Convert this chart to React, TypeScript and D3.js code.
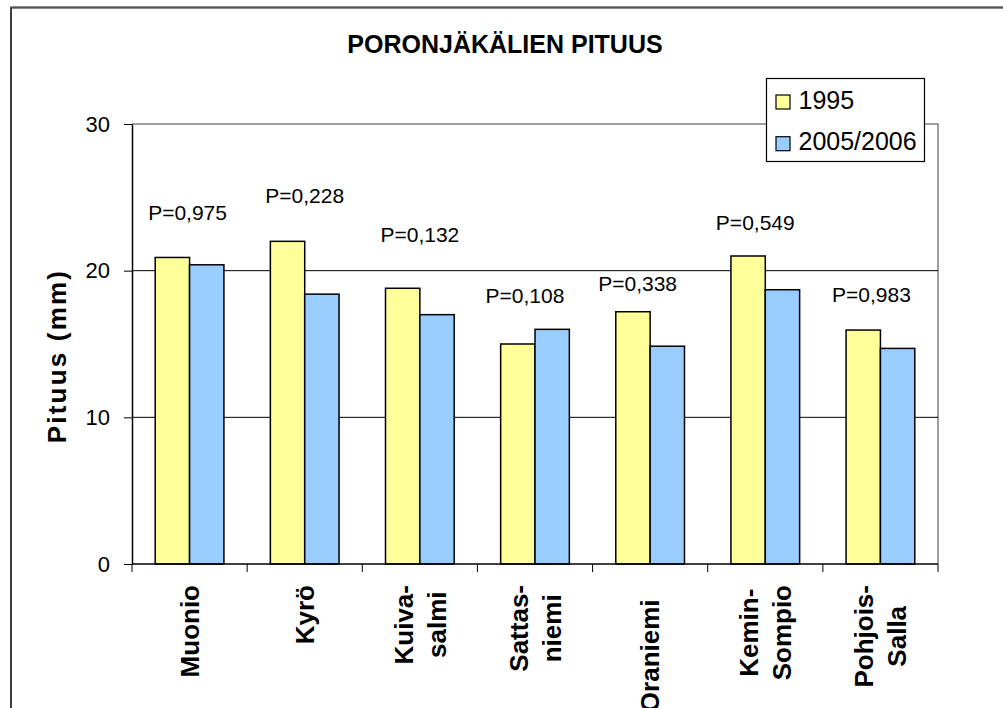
import React, { useEffect, useRef } from "react";
import * as d3 from "d3";

// data
const categories = ["Muonio", "Kyrö", "Kuivasalmi", "Sattasniemi", "Oraniemi", "Kemin-Sompio", "Pohjois-Salla"];
const categoryLines = [["Muonio"], ["Kyrö"], ["Kuiva-", "salmi"], ["Sattas-", "niemi"], ["Oraniemi  "], ["Kemin-", "Sompio"], ["Pohjois-", "Salla"]];
const series = ["1995", "2005/2006"];
const values1995 = [20.9, 22.0, 18.8, 15.0, 17.2, 21.0, 15.95];
const values2005 = [20.4, 18.4, 17.0, 16.0, 14.85, 18.7, 14.7];
const pLabels = ["P=0,975", "P=0,228", "P=0,132", "P=0,108", "P=0,338", "P=0,549", "P=0,983"];
// level (in mm) where each P label sits
const pLabelLevel = [24.0, 25.1, 22.5, 18.3, 19.1, 23.3, 18.4];
const yTicks = [0, 10, 20, 30];

const W = 1003;
const H = 708;
const FONT = '"Liberation Sans", Arial, Helvetica, sans-serif';
const colors = ["#FFFF99", "#99CCFF"];

export default function App() {
  const ref = useRef<SVGSVGElement>(null);

  useEffect(() => {
    const svg = d3.select(ref.current);
    svg.selectAll("*").remove();

    const left = 132, right = 938, top = 124, bottom = 564;

    const x0 = d3.scaleBand<string>().domain(categories).range([left, right]).padding(0);
    const x1 = d3.scaleBand<string>().domain(series).range([0, x0.bandwidth()]).paddingInner(0).paddingOuter(0.676);
    const y = d3.scaleLinear().domain([0, 30]).range([bottom, top]);

    svg.append("rect").attr("width", W).attr("height", H).attr("fill", "#fff");

    // chart frame (runs off the page on the right and bottom)
    svg.append("rect")
      .attr("x", 11).attr("y", 7.5)
      .attr("width", W + 40).attr("height", H + 40)
      .attr("fill", "none").attr("stroke", "#000").attr("stroke-width", 1.5);
    svg.append("line")
      .attr("x1", 11).attr("x2", W).attr("y1", 7.5).attr("y2", 7.5)
      .attr("stroke", "#555").attr("stroke-width", 2);

    // plot area border (gray top + right)
    svg.append("path")
      .attr("d", `M${left},${top}H${right}V${bottom}`)
      .attr("fill", "none").attr("stroke", "#808080").attr("stroke-width", 1.5);

    // gridlines
    svg.append("g")
      .selectAll("line")
      .data(yTicks.filter((t) => t > 0 && t < 30))
      .join("line")
      .attr("x1", left).attr("x2", right)
      .attr("y1", (d) => y(d)).attr("y2", (d) => y(d))
      .attr("stroke", "#000").attr("stroke-width", 1);

    // bars
    const rows = categories.map((c, i) => ({ c, vals: [values1995[i], values2005[i]] }));
    const groups = svg.append("g")
      .selectAll("g")
      .data(rows)
      .join("g")
      .attr("transform", (d) => `translate(${x0(d.c)},0)`);

    groups.selectAll("rect")
      .data((d) => d.vals.map((v, j) => ({ s: series[j], v, j })))
      .join("rect")
      .attr("x", (d) => x1(d.s)!)
      .attr("y", (d) => y(d.v))
      .attr("width", x1.bandwidth())
      .attr("height", (d) => bottom - y(d.v))
      .attr("fill", (d) => colors[d.j])
      .attr("stroke", "#000")
      .attr("stroke-width", 1.5);

    // y axis
    const yAxis = svg.append("g")
      .attr("transform", `translate(${left},0)`)
      .call(d3.axisLeft(y).tickValues(yTicks).tickSize(8).tickSizeOuter(0).tickPadding(14));
    yAxis.select(".domain").attr("stroke", "#000").attr("stroke-width", 1.5);
    yAxis.selectAll(".tick line").attr("stroke", "#000");
    yAxis.selectAll("text")
      .attr("font-family", FONT).attr("font-size", 22).attr("fill", "#000");

    // x axis line + ticks at category boundaries
    svg.append("line")
      .attr("x1", left).attr("x2", right)
      .attr("y1", bottom).attr("y2", bottom)
      .attr("stroke", "#000").attr("stroke-width", 1.5);
    const bounds = categories.map((c) => x0(c)!).concat([right]);
    svg.append("g")
      .selectAll("line")
      .data(bounds)
      .join("line")
      .attr("x1", (d) => d).attr("x2", (d) => d)
      .attr("y1", bottom).attr("y2", bottom + 8)
      .attr("stroke", "#000");

    // category labels, rotated, lines centred, block starting under the axis
    const lineGap = 33;
    categoryLines.forEach((lines, i) => {
      const cx = x0(categories[i])! + x0.bandwidth() / 2;
      const texts = lines.map((t, j) =>
        svg.append("text")
          .attr("font-family", FONT).attr("font-size", 26).attr("font-weight", "bold")
          .style("white-space", "pre")
          .attr("text-anchor", "middle")
          .text(t)
          .datum(cx + 9.3 + (j - (lines.length - 1) / 2) * lineGap)
      );
      const maxLen = d3.max(texts, (t) => (t.node() as SVGTextElement).getComputedTextLength()) || 0;
      const cy = bottom + 21 + maxLen / 2;
      texts.forEach((t) => {
        const bx = t.datum() as number;
        t.attr("transform", `translate(${bx},${cy}) rotate(-90)`);
      });
    });

    // P-value annotations
    const pShift = [-2, 0, 0, -10, -12.5, -10, -9];
    svg.append("g")
      .selectAll("text")
      .data(pLabels)
      .join("text")
      .attr("x", (d, i) => x0(categories[i])! + x0.bandwidth() / 2 + pShift[i])
      .attr("y", (d, i) => y(pLabelLevel[i]) + 7.5)
      .attr("text-anchor", "middle")
      .attr("font-family", FONT).attr("font-size", 21)
      .text((d) => d);

    // title
    svg.append("text")
      .attr("x", 505).attr("y", 53)
      .attr("text-anchor", "middle")
      .attr("font-family", FONT).attr("font-size", 25).attr("font-weight", "bold")
      .text("PORONJÄKÄLIEN PITUUS");

    // y axis title
    svg.append("text")
      .attr("transform", "translate(66,356) rotate(-90)")
      .attr("text-anchor", "middle")
      .attr("font-family", FONT).attr("font-size", 26).attr("font-weight", "bold")
      .attr("letter-spacing", 2.2)
      .text("Pituus (mm)");

    // legend
    const lg = svg.append("g").attr("transform", "translate(766.5,78.5)");
    lg.append("rect").attr("width", 158).attr("height", 83)
      .attr("fill", "#fff").attr("stroke", "#000").attr("stroke-width", 1.2);
    series.forEach((s, j) => {
      lg.append("rect")
        .attr("x", 9.5).attr("y", 16.5 + j * 41.7)
        .attr("width", 14).attr("height", 14)
        .attr("fill", colors[j]).attr("stroke", "#000").attr("stroke-width", 1.2);
      lg.append("text")
        .attr("x", 32).attr("y", 30 + j * 41.7)
        .attr("font-family", FONT).attr("font-size", 25)
        .text(s);
    });
  }, []);

  return (
    <svg
      ref={ref}
      width={W}
      height={H}
      style={{ position: "absolute", left: 0, top: 0, display: "block" }}
    />
  );
}
